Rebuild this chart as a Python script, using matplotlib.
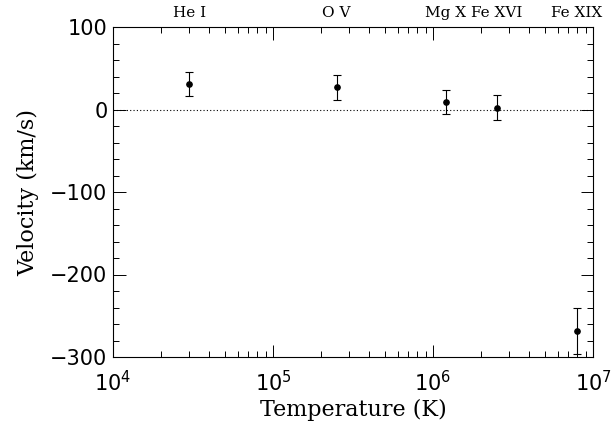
import numpy as np
import matplotlib
matplotlib.use("Agg")
import matplotlib.pyplot as plt
from matplotlib.ticker import LogLocator, MultipleLocator, NullFormatter

# Line data
ions = ["He I", "O V", "Mg X", "Fe XVI", "Fe XIX"]
temperature = [3.0e4, 2.5e5, 1.2e6, 2.5e6, 7.9e6]
velocity = [31, 27, 9, 2, -268]
velocity_err = [15, 15, 15, 15, 28]

plt.rcParams["mathtext.fontset"] = "dejavuserif"

fig = plt.figure(figsize=(6.11, 4.22), dpi=100)
ax = fig.add_axes([113 / 611, 1 - 357 / 422, 480 / 611, 330 / 422])

ax.axhline(0, color="black", linestyle=(0, (1, 2)), linewidth=0.8)
ax.errorbar(temperature, velocity, yerr=velocity_err, fmt="o", color="black",
            markersize=3.8, capsize=2.8, elinewidth=0.8, capthick=0.8)

ax.set_xscale("log")
ax.set_xlim(1e4, 1e7)
ax.set_ylim(-300, 100)

ax.yaxis.set_major_locator(MultipleLocator(100))
ax.yaxis.set_minor_locator(MultipleLocator(20))
ax.xaxis.set_major_locator(LogLocator(base=10, numticks=10))
ax.xaxis.set_minor_locator(LogLocator(base=10, subs=np.arange(2, 10), numticks=10))
ax.xaxis.set_minor_formatter(NullFormatter())

ax.tick_params(which="both", direction="in", top=True, right=True, width=0.7)
ax.tick_params(which="major", length=9)
ax.tick_params(which="minor", length=4.5)
ax.tick_params(axis="y", labelsize=15, pad=4)
ax.tick_params(axis="x", labelsize=15, pad=9)
for lab in ax.get_yticklabels():
    lab.set_family("DejaVu Sans")
for sp in ax.spines.values():
    sp.set_linewidth(0.8)

ax.set_xlabel("Temperature (K)", family="DejaVu Serif", fontsize=16, labelpad=3)
ax.set_ylabel("Velocity (km/s)", family="DejaVu Serif", fontsize=16, labelpad=8)

# ion names along the top edge
for name, t in zip(ions, temperature):
    ax.text(t, 1.02, name, transform=ax.get_xaxis_transform(), ha="center",
            va="bottom", family="DejaVu Serif", fontsize=11)

fig.savefig("out.png", dpi=100)
